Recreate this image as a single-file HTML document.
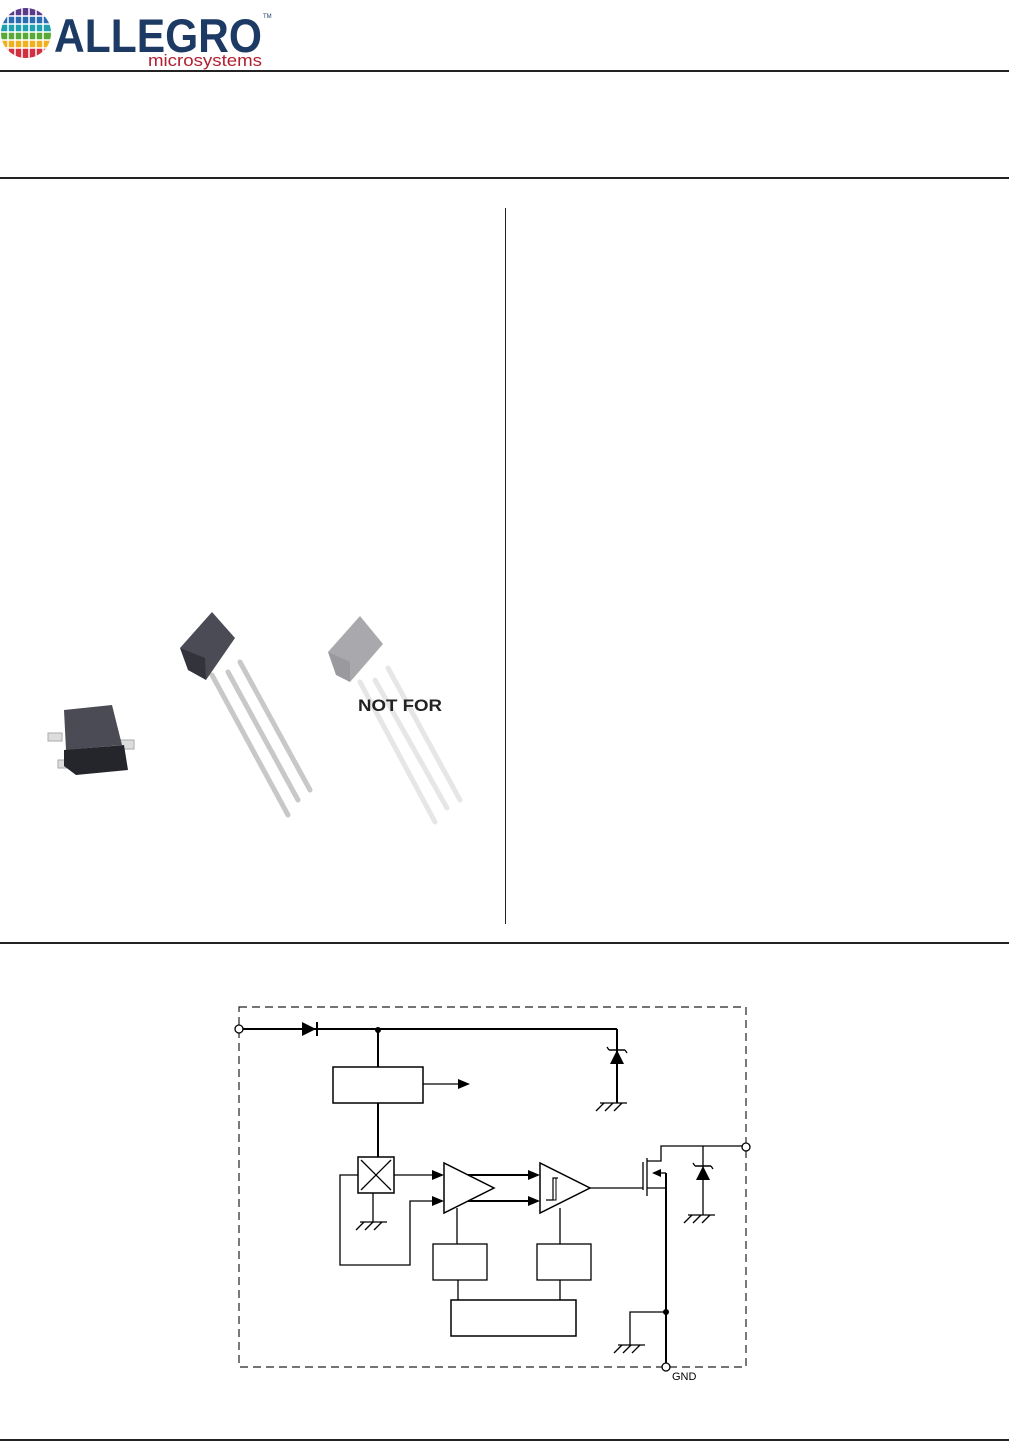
<!DOCTYPE html>
<html><head><meta charset="utf-8"><style>
html,body{margin:0;padding:0;background:#fff;}
body{width:1009px;height:1442px;position:relative;overflow:hidden;font-family:"Liberation Sans",sans-serif;}
</style></head><body>
<svg width="1009" height="1442" viewBox="0 0 1009 1442" xmlns="http://www.w3.org/2000/svg" style="position:absolute;left:0;top:0">
<defs><clipPath id="lc"><circle cx="26" cy="33" r="25"/></clipPath></defs>
<g clip-path="url(#lc)">
<rect x="0" y="8" width="52" height="8" fill="#5b3a8a"/>
<rect x="0" y="16" width="52" height="8" fill="#2a6cb0"/>
<rect x="0" y="24" width="52" height="8" fill="#1ea0b0"/>
<rect x="0" y="32" width="52" height="8" fill="#5aaa3a"/>
<rect x="0" y="40" width="52" height="8" fill="#f0b020"/>
<rect x="0" y="48" width="52" height="10" fill="#d03040"/>
<g stroke="#fff" stroke-width="1.5">
<line x1="8" y1="0" x2="8" y2="60"/><line x1="15" y1="0" x2="15" y2="60"/><line x1="22" y1="0" x2="22" y2="60"/><line x1="29" y1="0" x2="29" y2="60"/><line x1="36" y1="0" x2="36" y2="60"/><line x1="43" y1="0" x2="43" y2="60"/>
<line x1="0" y1="16" x2="52" y2="16"/><line x1="0" y1="24" x2="52" y2="24"/><line x1="0" y1="32" x2="52" y2="32"/><line x1="0" y1="40" x2="52" y2="40"/><line x1="0" y1="48" x2="52" y2="48"/>
</g></g>
<text x="54" y="52" font-family="Liberation Sans" font-weight="bold" font-size="47" fill="#1c3a64" textLength="208" lengthAdjust="spacingAndGlyphs">ALLEGRO</text>
<text x="263" y="18" font-size="6" fill="#1c3a64">TM</text>
<text x="148" y="66" font-size="17" fill="#b02030" textLength="114" lengthAdjust="spacingAndGlyphs">microsystems</text>
<g fill="#222">
<rect x="0" y="70" width="1009" height="2"/>
<rect x="0" y="177" width="1009" height="2"/>
<rect x="505" y="208" width="1" height="716"/>
<rect x="0" y="942" width="1009" height="2"/>
<rect x="0" y="1439" width="1009" height="2"/>
</g>
<!-- SOT package -->
<g>
<rect x="48" y="733" width="14" height="8" fill="#ddd" stroke="#aaa"/>
<rect x="58" y="760" width="14" height="8" fill="#ddd" stroke="#aaa"/>
<rect x="120" y="740" width="14" height="9" fill="#ddd" stroke="#aaa"/>
<polygon points="64,710 112,705 122,745 66,750" fill="#4a4b55"/>
<polygon points="64,750 124,745 128,770 76,775 64,766" fill="#25262c"/>
</g>
<!-- TO92 dark -->
<g>
<g stroke="#c8c8c8" stroke-width="5" stroke-linecap="round">
<line x1="212" y1="675" x2="288" y2="815"/><line x1="228" y1="672" x2="298" y2="800"/><line x1="240" y1="662" x2="310" y2="790"/>
</g>
<polygon points="180,648 212,612 235,638 206,680" fill="#4a4b55"/>
<polygon points="180,648 205,658 206,680 188,670" fill="#33343b"/>
</g>
<!-- TO92 light -->
<g>
<g stroke="#e6e6e6" stroke-width="5" stroke-linecap="round">
<line x1="360" y1="682" x2="435" y2="822"/><line x1="375" y1="680" x2="447" y2="808"/><line x1="388" y1="668" x2="460" y2="800"/>
</g>
<polygon points="328,652 360,616 383,644 350,682" fill="#a9a9ad"/>
<polygon points="328,652 350,662 350,682 336,675" fill="#9a9a9e"/>
<text x="358" y="711" font-weight="bold" font-size="17" fill="#222" textLength="84" lengthAdjust="spacingAndGlyphs">NOT FOR</text>
</g>
<!-- schematic -->
<g fill="none" stroke="#000" stroke-width="1.3">
<rect x="239" y="1007" width="507" height="360" stroke-dasharray="8,5" stroke-width="1.2" stroke="#222"/>
<line x1="243" y1="1029" x2="617" y2="1029" stroke-width="2"/>
<line x1="617" y1="1029" x2="617" y2="1103" stroke-width="2"/>
<line x1="378" y1="1029" x2="378" y2="1067" stroke-width="2"/>
<rect x="333" y="1067" width="90" height="36" stroke-width="1.5"/>
<line x1="423" y1="1084" x2="460" y2="1084"/>
<line x1="378" y1="1103" x2="378" y2="1157" stroke-width="2"/>
<rect x="358" y="1157" width="36" height="36" stroke-width="1.5"/>
<line x1="361" y1="1160" x2="391" y2="1190"/><line x1="391" y1="1160" x2="361" y2="1190"/>
<line x1="373" y1="1193" x2="373" y2="1222"/>
<polyline points="358,1175 340,1175 340,1265 410,1265 410,1201 436,1201"/>
<line x1="394" y1="1175" x2="436" y2="1175"/>
<polygon points="444,1163 444,1213 494,1188" stroke-width="1.5"/>
<line x1="468" y1="1175" x2="532" y2="1175" stroke-width="2"/>
<line x1="468" y1="1201" x2="532" y2="1201" stroke-width="2"/>
<polygon points="540,1163 540,1213 590,1188" stroke-width="1.5"/>
<polyline points="546,1200 553,1200 553,1178 558,1178" stroke-width="1.2"/>
<polyline points="551,1200 556,1200 556,1178" stroke-width="1"/>
<line x1="590" y1="1188" x2="643" y2="1188"/>
<line x1="457" y1="1208" x2="457" y2="1244"/>
<line x1="560" y1="1208" x2="560" y2="1244"/>
<rect x="433" y="1244" width="54" height="36"/>
<rect x="537" y="1244" width="54" height="36"/>
<line x1="458" y1="1280" x2="458" y2="1300"/>
<line x1="560" y1="1280" x2="560" y2="1300"/>
<rect x="451" y="1300" width="125" height="36" stroke-width="1.5"/>
<line x1="643" y1="1162" x2="643" y2="1190"/>
<line x1="647" y1="1158" x2="647" y2="1196"/>
<polyline points="647,1161 661,1161 661,1146 743,1146"/>
<line x1="703" y1="1146" x2="703" y2="1215"/>
<line x1="656" y1="1173" x2="666" y2="1173"/>
<polyline points="647,1188 666,1188"/>
<line x1="666" y1="1173" x2="666" y2="1363" stroke-width="2"/>
<polyline points="666,1312 630,1312 630,1345"/>
<line x1="609" y1="1050" x2="625" y2="1050" stroke-width="1.5"/>
<line x1="609" y1="1050" x2="607" y2="1047"/><line x1="625" y1="1050" x2="627" y2="1053"/>
<line x1="695" y1="1166" x2="711" y2="1166" stroke-width="1.5"/>
<line x1="695" y1="1166" x2="693" y2="1163"/><line x1="711" y1="1166" x2="713" y2="1169"/>
<line x1="600" y1="1103" x2="627" y2="1103"/>
<line x1="604" y1="1103" x2="596" y2="1111"/><line x1="613" y1="1103" x2="605" y2="1111"/><line x1="622" y1="1103" x2="614" y2="1111"/>
<line x1="360" y1="1222" x2="387" y2="1222"/>
<line x1="364" y1="1222" x2="356" y2="1230"/><line x1="373" y1="1222" x2="365" y2="1230"/><line x1="382" y1="1222" x2="374" y2="1230"/>
<line x1="688" y1="1215" x2="715" y2="1215"/>
<line x1="692" y1="1215" x2="684" y2="1223"/><line x1="701" y1="1215" x2="693" y2="1223"/><line x1="710" y1="1215" x2="702" y2="1223"/>
<line x1="618" y1="1345" x2="645" y2="1345"/>
<line x1="622" y1="1345" x2="614" y2="1353"/><line x1="631" y1="1345" x2="623" y2="1353"/><line x1="640" y1="1345" x2="632" y2="1353"/>
</g>
<g fill="#000">
<polygon points="302,1022 302,1036 316,1029"/><rect x="316" y="1022" width="2" height="14"/>
<polygon points="610,1064 624,1064 617,1050"/>
<polygon points="696,1180 710,1180 703,1166"/>
<circle cx="378" cy="1030" r="3"/>
<circle cx="666" cy="1312" r="3"/>
<polygon points="458,1079 470,1084 458,1089"/>
<polygon points="432,1170 444,1175 432,1180"/>
<polygon points="432,1196 444,1201 432,1206"/>
<polygon points="528,1170 540,1175 528,1180"/>
<polygon points="528,1196 540,1201 528,1206"/>
<polygon points="652,1173 661,1169 661,1177"/>
</g>
<g fill="#fff" stroke="#000" stroke-width="1.3">
<circle cx="239" cy="1029" r="4"/>
<circle cx="746" cy="1147" r="4"/>
<circle cx="666" cy="1367" r="4"/>
</g>
<text x="672" y="1380" font-size="11" fill="#000">GND</text>
</svg>
</body></html>
